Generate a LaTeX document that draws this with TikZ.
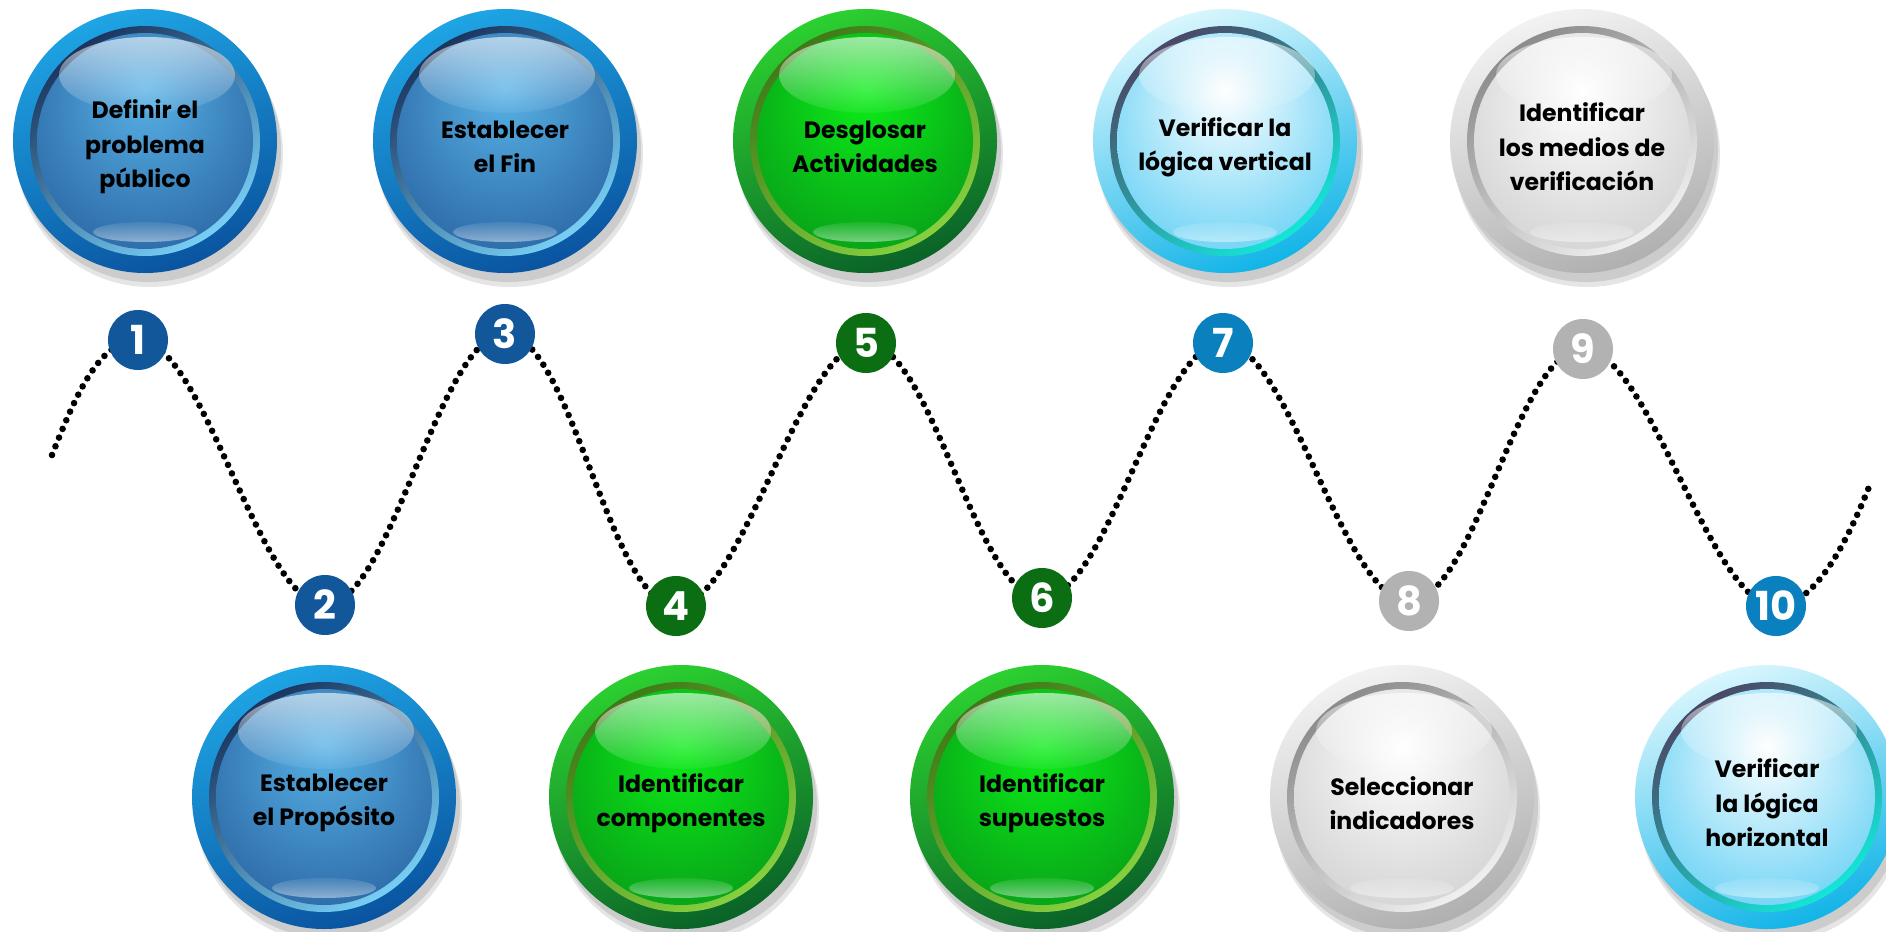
\documentclass[tikz,border=0pt]{standalone}
\usepackage{fontspec}
\setmainfont{Poppins}
\usetikzlibrary{fadings}

\definecolor{blueRingT}{HTML}{1EA4E4}\definecolor{blueRingB}{HTML}{0A54A0}
\definecolor{blueRimA}{HTML}{1A355F}\definecolor{blueRimB}{HTML}{78CFF5}
\definecolor{blueIn}{HTML}{58B2E6}\definecolor{blueOut}{HTML}{164487}
\definecolor{blueNum}{HTML}{12579A}
\definecolor{greenRingT}{HTML}{2CD030}\definecolor{greenRingB}{HTML}{0A6228}
\definecolor{greenRimA}{HTML}{3F7A18}\definecolor{greenRimB}{HTML}{86D040}
\definecolor{greenIn}{HTML}{0CEE18}\definecolor{greenOut}{HTML}{067A18}
\definecolor{greenNum}{HTML}{0B6E12}
\definecolor{cyanRingT}{HTML}{D8F6FD}\definecolor{cyanRingB}{HTML}{12B4E8}
\definecolor{cyanRimA}{HTML}{4A4866}\definecolor{cyanRimB}{HTML}{14E6D8}
\definecolor{cyanIn}{HTML}{FFFFFF}\definecolor{cyanOut}{HTML}{22BCF0}
\definecolor{cyanNum}{HTML}{0A80BE}
\definecolor{grayRingT}{HTML}{F2F2F2}\definecolor{grayRingB}{HTML}{B0B0B0}
\definecolor{grayRimA}{HTML}{8C8C8C}\definecolor{grayRimB}{HTML}{F0F0F0}
\definecolor{grayIn}{HTML}{FFFFFF}\definecolor{grayOut}{HTML}{BDBDBD}
\definecolor{grayNum}{HTML}{B2B2B2}
\colorlet{ballin}{white}\colorlet{ballout}{black}

\pgfdeclareradialshading[ballin,ballout]{ballglow}{\pgfpoint{0bp}{12bp}}{color(0bp)=(ballin); color(24bp)=(ballin!50!ballout); color(50bp)=(ballout)}
\tikzfading[name=hlfade, top color=transparent!40, bottom color=transparent!94]
\tikzfading[name=hlfadeb, top color=transparent!92, bottom color=transparent!55]

\tikzset{
  balltext/.style={align=center, font=\bfseries\fontsize{11.8}{17.2}\selectfont, text=black, inner sep=0pt},
  numc/.style={circle, minimum size=30pt, inner sep=0pt, text=white, font=\bfseries\fontsize{20}{20}\selectfont},
  wave/.style={line width=3.3pt, line cap=round, dash pattern=on 0pt off 4.7pt, black},
}

\newcommand\glossball[5]{%
  \begin{scope}[shift={(#2,#3)}]
    \fill[black!10] (5,13) circle (133);
    \fill[black!20] (4,9) circle (132);
    \shade[top color=#4RingT, bottom color=#4RingB, shading angle=20] (0,0) circle (132);
    \shade[top color=#4RimA, bottom color=#4RimB, shading angle=35] (0,0) circle (115);
    \colorlet{ballin}{#4In}\colorlet{ballout}{#4Out}
    \shade[shading=ballglow] (0,0) circle (108);
    \fill[white, path fading=hlfade] (2,-66) ellipse (88 and 38);
    \fill[white, path fading=hlfadeb] (0,91) ellipse (52 and 10);
  \end{scope}
  \node[balltext] (#1) at (#2,#3+6) {#5};
}

\begin{document}
\begin{tikzpicture}[x=0.5pt, y=-0.5pt]
\useasboundingbox (0,0) rectangle (1886,932);
\fill[white] (0,0) rectangle (1886,932);

\glossball{b1}{145}{141}{blue}{Definir el\\problema\\público}
\glossball{b3}{505}{141}{blue}{Establecer\\el Fin}
\glossball{b5}{865}{141}{green}{Desglosar\\Actividades}
\glossball{b7}{1225}{141}{cyan}{Verificar la\\lógica vertical}
\glossball{b9}{1582}{141}{gray}{Identificar\\los medios de\\verificación}
\glossball{b2}{324}{797}{blue}{Establecer\\el Propósito}
\glossball{b4}{681}{797}{green}{Identificar\\componentes}
\glossball{b6}{1042}{797}{green}{Identificar\\supuestos}
\glossball{b8}{1402}{797}{gray}{Seleccionar\\indicadores}
\glossball{b10}{1767}{797}{cyan}{Verificar\\la lógica\\horizontal}

\coordinate (ws) at (52,455);
\coordinate (we) at (1869,487);
\coordinate (p1) at (138,340);
\coordinate (p2) at (325,605);
\coordinate (p3) at (505,334);
\coordinate (p4) at (676,606);
\coordinate (p5) at (866,343);
\coordinate (p6) at (1042,598);
\coordinate (p7) at (1223,343);
\coordinate (p8) at (1409,601);
\coordinate (p9) at (1583,349);
\coordinate (p10) at (1776,606);

\draw[wave] (ws) .. controls +(22,-55) and +(-40,0) .. (p1)
  .. controls +(66,0) and +(-66,0) .. (p2)
  .. controls +(66,0) and +(-66,0) .. (p3)
  .. controls +(66,0) and +(-66,0) .. (p4)
  .. controls +(66,0) and +(-66,0) .. (p5)
  .. controls +(66,0) and +(-66,0) .. (p6)
  .. controls +(66,0) and +(-66,0) .. (p7)
  .. controls +(66,0) and +(-66,0) .. (p8)
  .. controls +(66,0) and +(-66,0) .. (p9)
  .. controls +(66,0) and +(-66,0) .. (p10)
  .. controls +(40,0) and +(-20,50) .. (we);

\node[numc, fill=blueNum] (n1) at (p1) {1};
\node[numc, fill=blueNum] (n2) at (p2) {2};
\node[numc, fill=blueNum] (n3) at (p3) {3};
\node[numc, fill=greenNum] (n4) at (p4) {4};
\node[numc, fill=greenNum] (n5) at (p5) {5};
\node[numc, fill=greenNum] (n6) at (p6) {6};
\node[numc, fill=cyanNum] (n7) at (p7) {7};
\node[numc, fill=grayNum] (n8) at (p8) {8};
\node[numc, fill=grayNum] (n9) at (p9) {9};
\node[numc, fill=cyanNum] (n10) at (p10) {10};
\end{tikzpicture}
\end{document}
